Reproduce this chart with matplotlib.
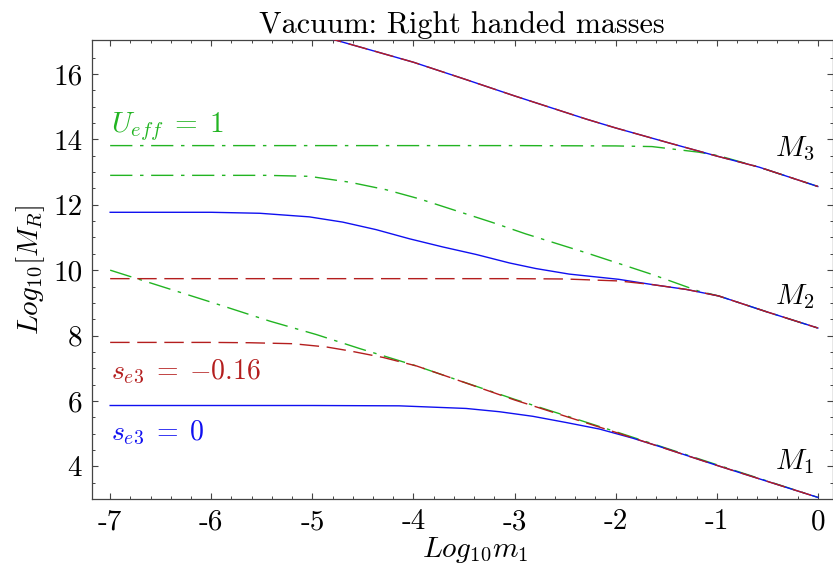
import matplotlib
matplotlib.use("Agg")
import matplotlib.pyplot as plt

plt.rcParams["font.family"] = "cmr10"
plt.rcParams["mathtext.fontset"] = "cm"
plt.rcParams["axes.unicode_minus"] = False

BLUE = "#1010f0"
RED = "#b41e1e"
GREEN = "#22b422"

# s_e3 = 0 (blue, solid)
m3_x = [-4.9, -4.5, -4.0, -3.5, -3.0, -2.5, -2.29, -2.0, -1.47, -1.0, -0.58, 0.0]
m3_y = [17.15, 16.8, 16.36, 15.85, 15.33, 14.83, 14.62, 14.35, 13.89, 13.49, 13.15, 12.56]
b2_x = [-7.0, -6.0, -5.52, -5.03, -4.70, -4.37, -4.04, -3.71, -3.38, -3.05, -2.79,
        -2.46, -1.97, -1.64, -1.30, -0.98, -0.5, 0.0]
b2_y = [11.77, 11.77, 11.74, 11.63, 11.47, 11.24, 10.96, 10.71, 10.48, 10.22, 10.05,
        9.88, 9.72, 9.56, 9.41, 9.21, 8.72, 8.23]
b1_x = [-7.0, -5.0, -4.14, -3.48, -3.15, -2.82, -2.49, -2.16, -1.83, -1.57, -1.0, -0.5, 0.0]
b1_y = [5.86, 5.86, 5.85, 5.77, 5.67, 5.53, 5.34, 5.14, 4.86, 4.61, 4.03, 3.54, 3.05]

# s_e3 = -0.16 (red, dashed)
r2_x = [-7.0, -5.0, -3.0, -2.5, -1.97, -1.64, -1.30, -0.98, -0.5, 0.0]
r2_y = [9.74, 9.74, 9.74, 9.73, 9.67, 9.56, 9.41, 9.21, 8.72, 8.23]
r1_x = [-7.0, -6.0, -5.62, -5.19, -4.86, -4.63, -4.30, -3.97, -3.64, -3.0, -2.0, -1.0, 0.0]
r1_y = [7.79, 7.79, 7.78, 7.75, 7.65, 7.53, 7.33, 7.07, 6.72, 6.03, 5.04, 4.03, 3.05]

# U_eff = 1 (green, dash-dot)
g3_x = [-7.0, -3.0, -2.0, -1.64, -1.37, -1.18, -0.98, -0.58, 0.0]
g3_y = [13.81, 13.81, 13.80, 13.78, 13.68, 13.61, 13.5, 13.15, 12.56]
g2_x = [-7.0, -6.0, -5.45, -5.03, -4.63, -4.27, -3.94, -3.61, -3.22, -2.89, -2.29,
        -1.64, -1.18, -0.98, -0.5, 0.0]
g2_y = [12.9, 12.9, 12.9, 12.87, 12.69, 12.46, 12.18, 11.85, 11.46, 11.11, 10.53,
        9.87, 9.36, 9.21, 8.72, 8.23]
g1_x = [-7.0, -6.0, -5.42, -4.96, -4.53, -3.97, -3.64, -3.0, -2.0, -1.0, 0.0]
g1_y = [10.0, 9.02, 8.44, 8.03, 7.6, 7.07, 6.72, 6.05, 5.06, 4.05, 3.05]

xticks = [-7, -6, -5, -4, -3, -2, -1, 0]
yticks = [4, 6, 8, 10, 12, 14, 16]

fig = plt.figure(figsize=(8.33, 5.65), dpi=100)
ax = fig.add_axes([0.1104, 0.1168, 0.889, 0.8124])

dd = dict(lw=1.0, color=GREEN, dashes=(16, 5.5, 2.5, 5.5), zorder=2)
for x, y in [(g3_x, g3_y), (g2_x, g2_y), (g1_x, g1_y)]:
    ax.plot(x, y, **dd)
for x, y in [(m3_x, m3_y), (b2_x, b2_y), (b1_x, b1_y)]:
    ax.plot(x, y, lw=1.0, color=BLUE, zorder=3)
for x, y in [(m3_x, m3_y), (r2_x, r2_y), (r1_x, r1_y)]:
    ax.plot(x, y, lw=1.0, color=RED, dashes=(14, 5.5), zorder=4)

ax.set_xlim(-7.18, 0.145)
ax.set_ylim(3.03, 17.04)
ax.set_xticks(xticks, labels=[str(t) for t in xticks])
ax.set_yticks(yticks, labels=[str(t) for t in yticks])
ax.set_xticks([t / 5 for t in range(-35, 1)], minor=True)
ax.set_yticks([t / 2 for t in range(6, 34)], minor=True)
ax.tick_params(which="both", direction="in", top=True, right=True,
               labelsize=21, color="#444444", pad=7)
ax.tick_params(which="major", length=4.5, width=0.8)
ax.tick_params(which="minor", length=2.2, width=0.7)
for s in ax.spines.values():
    s.set_color("#444444")
    s.set_linewidth(0.9)

ax.set_title("Vacuum: Right handed masses", fontsize=21.7, pad=5)
ax.set_xlabel(r"$Log_{10}m_1$", fontsize=21)
ax.xaxis.set_label_coords(0.518, -0.079)
ax.set_ylabel(r"$Log_{10}[M_R]$", fontsize=21, labelpad=4)

ax.text(-6.99, 14.23, r"$U_{eff}\;=\;1$", color=GREEN, fontsize=21)
ax.text(-6.99, 6.67, r"$s_{e3}\;=\;{-}0.16$", color=RED, fontsize=20)
ax.text(-6.99, 4.79, r"$s_{e3}\;=\;0$", color=BLUE, fontsize=20)
for lab, yy in [(r"$M_3$", 13.48), (r"$M_2$", 8.96), (r"$M_1$", 3.93)]:
    ax.text(-0.42, yy, lab, fontsize=21)

fig.savefig("out.png", dpi=100)
